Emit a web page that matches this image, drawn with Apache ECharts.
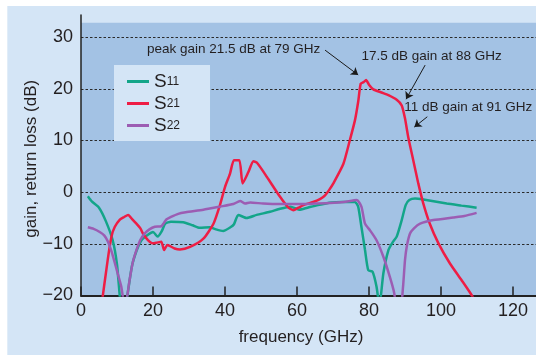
<!DOCTYPE html>
<html>
<head>
<meta charset="utf-8">
<script src="https://cdn.jsdelivr.net/npm/echarts@6/dist/echarts.min.js"></script>
<style>
  html, body { margin: 0; padding: 0; background: #fff; }
  #chart { width: 536px; height: 355px; }
</style>
</head>
<body>
<div id="chart"></div>
<script>
// frequency (GHz) / dB values
var s11Freq = [1.9, 3.0, 5.0, 6.9, 8.8, 10.0, 11.6, 14.1, 15.5, 16.8, 18.5, 20.0, 21.3, 22.4, 23.4, 25.0, 28.4, 31.0, 33.0, 35.8, 37.5, 39.5, 41.5, 42.5, 43.7, 46.0, 48.8, 52.5, 55.3, 58.2, 60.6, 62.9, 65.8, 69.6, 72.5, 76.1, 77.0, 77.9, 78.9, 79.8, 81.0, 82.1, 82.9, 84.0, 85.4, 86.5, 87.7, 89.1, 90.2, 91.2, 92.8, 95.1, 101.6, 105.7, 109.9];
var s11Val  = [-0.8, -1.8, -3.0, -5.6, -9.3, -14.0, -25, -14.5, -11.2, -9.3, -8.3, -7.7, -8.6, -7.6, -6.1, -5.7, -5.8, -6.4, -6.9, -6.8, -7.2, -7.5, -6.8, -6.2, -4.4, -5.0, -4.4, -3.8, -3.2, -2.8, -3.4, -3.0, -2.5, -2.0, -1.9, -1.9, -2.8, -6.7, -11.2, -15.1, -15.4, -18.3, -22, -15.7, -11.2, -9.8, -8.6, -5.4, -2.5, -1.5, -1.2, -1.4, -2.2, -2.6, -3.0];

var s21Freq = [5.3, 7.4, 8.5, 9.4, 10.8, 12.0, 13.1, 14.2, 15.4, 16.5, 17.2, 18.6, 19.8, 20.9, 22.3, 23.1, 24.0, 26.0, 27.5, 30.3, 34.0, 36.8, 38.6, 40.0, 41.4, 42.5, 44.0, 44.9, 46.5, 47.9, 49.0, 51.6, 55.3, 57.5, 59.0, 60.4, 61.8, 64.5, 66.5, 67.8, 69.0, 70.1, 72.9, 74.7, 76.1, 77.0, 77.7, 78.5, 79.2, 80.0, 81.2, 83.5, 85.4, 87.7, 89.1, 90.0, 90.9, 92.3, 93.7, 95.1, 96.9, 99.3, 102.5, 105.7, 108.5, 110.0];
var s21Val  = [-24, -13.2, -8.5, -6.7, -5.3, -4.8, -4.4, -5.2, -6.1, -7.0, -8.0, -9.3, -9.9, -9.8, -9.6, -11.2, -10.2, -10.9, -11.1, -10.6, -9.0, -6.1, -2.5, 1.0, 3.6, 6.2, 6.2, 1.7, 3.9, 6.0, 5.6, 3.0, -0.9, -2.9, -3.5, -3.0, -2.5, -1.9, -1.3, -0.6, 0.5, 1.7, 5.5, 10.1, 13.9, 17.5, 21.0, 21.3, 21.7, 20.8, 19.9, 19.3, 18.8, 17.9, 16.8, 14.3, 10.7, 6.2, 1.7, -2.2, -6.1, -9.9, -13.8, -17.0, -19.9, -22];

var s22Freq = [1.9, 3.5, 5.2, 6.5, 7.5, 8.5, 9.4, 10.3, 11.2, 12.2, 13.5, 14.4, 15.4, 16.5, 17.7, 19.0, 20.5, 22.3, 23.0, 23.7, 25.0, 27.0, 29.1, 34.0, 38.6, 42.3, 44.2, 45.6, 47.0, 50.6, 55.3, 60.0, 65.0, 69.2, 73.0, 76.6, 77.9, 78.9, 80.3, 82.1, 84.0, 85.8, 87.0, 88.4, 89.5, 90.0, 90.5, 91.4, 92.5, 94.2, 97.9, 103.4, 106.5, 109.9];
var s22Val  = [-6.8, -7.1, -7.7, -8.4, -9.6, -11.5, -13.7, -16.0, -18.3, -22.5, -17.0, -13.5, -11.2, -9.2, -8.0, -7.2, -6.7, -6.6, -6.0, -5.3, -4.8, -4.2, -3.9, -3.4, -2.8, -2.3, -1.7, -2.2, -2.0, -2.2, -2.3, -2.3, -2.2, -2.1, -1.9, -1.5, -2.8, -6.1, -7.4, -9.3, -12.5, -16.4, -19.5, -26, -18, -13.2, -10.5, -8.0, -7.0, -6.1, -5.4, -4.9, -4.6, -4.0];

var seriesNames = ['S11', 'S21', 'S22'];
var seriesColors = ['#13a589', '#ee1d45', '#9c5db3'];

// annotation texts and arrows, in data units
var noteText = ['peak gain 21.5 dB at 79 GHz', '17.5 dB gain at 88 GHz', '11 dB gain at 91 GHz'];
var noteAt = [[42.4, 27.7], [97.4, 26.4], [107.6, 16.5]];
var arrowFrom = [[67.8, 27.5], [95.6, 24.6], [96.2, 14.6]];
var arrowTo = [[77.0, 22.7], [90.3, 18.0], [92.6, 12.6]];

var xTicks = { min: 0, max: 126.4, step: 20 };
var yTicks = { min: -20, max: 34.3, step: 10, areaTop: 32.8 };

var FONT = "'Liberation Sans', Arial, sans-serif";
var INK = '#231f20';

function pairs(xs, ys) {
  return xs.map(function (x, i) { return [x, ys[i]]; });
}
function fmtNum(v) {
  return v < 0 ? '\u2212' + (-v) : String(v);
}

var myChart = echarts.init(document.getElementById('chart'));

var lineSeries = [[s11Freq, s11Val], [s21Freq, s21Val], [s22Freq, s22Val]].map(function (d, i) {
  return {
    name: seriesNames[i],
    type: 'line',
    data: pairs(d[0], d[1]),
    showSymbol: false,
    smooth: 0.2,
    clip: true,
    z: 4,
    lineStyle: { color: seriesColors[i], width: 2.5 },
    itemStyle: { color: seriesColors[i] }
  };
});

var option = {
  animation: false,
  backgroundColor: '#fff',
  textStyle: { fontFamily: FONT },
  graphic: [{
    type: 'rect',
    z: -100,
    shape: { x: 7.3, y: 6, width: 540, height: 360 },
    style: { fill: '#d4e5f6' }
  }],
  grid: { left: 81, right: 0, top: 15, bottom: 59.5 },
  legend: {
    data: seriesNames,
    orient: 'vertical',
    left: 114,
    top: 65,
    padding: [7, 30, 6, 13],
    backgroundColor: '#d4e5f6',
    icon: 'rect',
    itemWidth: 22,
    itemHeight: 3,
    itemGap: 3,
    itemTextGap: 9,
    formatter: function (n) {
      return '{s|' + n.charAt(0) + '}{sub|' + n.slice(1) + '}';
    },
    textStyle: {
      color: INK,
      rich: {
        s: { fontSize: 19, lineHeight: 18, color: INK, fontFamily: FONT },
        sub: { fontSize: 12, lineHeight: 18, color: INK, fontFamily: FONT }
      }
    }
  },
  xAxis: {
    type: 'value',
    z: 3,
    min: xTicks.min,
    max: xTicks.max,
    interval: xTicks.step,
    name: 'frequency (GHz)',
    nameLocation: 'middle',
    nameGap: 33,
    nameMoveOverlap: false,
    nameTextStyle: { fontSize: 17, color: INK, fontFamily: FONT, padding: [0, 15, 0, 0] },
    axisLine: { onZero: false, lineStyle: { color: '#222', width: 2 } },
    axisTick: { inside: true, length: 9, lineStyle: { color: '#222', width: 1.5 } },
    axisLabel: {
      fontSize: 18, color: INK, margin: 7, showMaxLabel: false,
      formatter: function (v) { return v % xTicks.step === 0 ? fmtNum(v) : ''; }
    },
    splitLine: { show: false }
  },
  yAxis: {
    type: 'value',
    z: 3,
    min: yTicks.min,
    max: yTicks.max,
    interval: yTicks.step,
    name: 'gain, return loss (dB)',
    nameLocation: 'middle',
    nameGap: 41,
    nameMoveOverlap: false,
    nameTextStyle: { fontSize: 17, color: INK, fontFamily: FONT, padding: [0, 7, 0, 0] },
    axisLine: { show: true, onZero: false, lineStyle: { color: '#222', width: 1.5 } },
    axisTick: { show: false },
    axisLabel: {
      fontSize: 18, color: INK, margin: 8, showMaxLabel: false,
      formatter: function (v) { return v % yTicks.step === 0 ? fmtNum(v) : ''; }
    },
    splitLine: {
      show: true, showMinLine: false, showMaxLine: false,
      lineStyle: { color: '#2a2a2a', width: 1.2, type: [2.5, 2] }
    }
  },
  series: [{
    // darker plot panel
    type: 'line',
    data: [],
    z: 0,
    silent: true,
    markArea: {
      silent: true,
      z: 0,
      itemStyle: { color: '#a3c2e4', opacity: 1 },
      data: [[{ coord: [xTicks.min, yTicks.min] }, { coord: [xTicks.max, yTicks.areaTop] }]]
    }
  }].concat(lineSeries).concat([{
    // annotations
    type: 'line',
    data: [],
    z: 6,
    silent: true,
    markLine: {
      silent: true,
      z: 6,
      symbol: ['none', 'arrow'],
      symbolSize: 7,
      label: { show: false },
      lineStyle: { color: '#1a1a1a', width: 1, type: 'solid' },
      data: arrowFrom.map(function (p, i) {
        return [{ coord: p }, { coord: arrowTo[i] }];
      })
    },
    markPoint: {
      z: 6,
      symbol: 'rect',
      symbolSize: 1,
      itemStyle: { color: 'rgba(0,0,0,0)' },
      label: { show: true, position: 'inside', color: INK, fontSize: 13.5, fontFamily: FONT },
      data: noteAt.map(function (p, i) {
        return { coord: p, value: noteText[i], label: { formatter: noteText[i] } };
      })
    }
  }])
};

myChart.setOption(option);
</script>
</body>
</html>
